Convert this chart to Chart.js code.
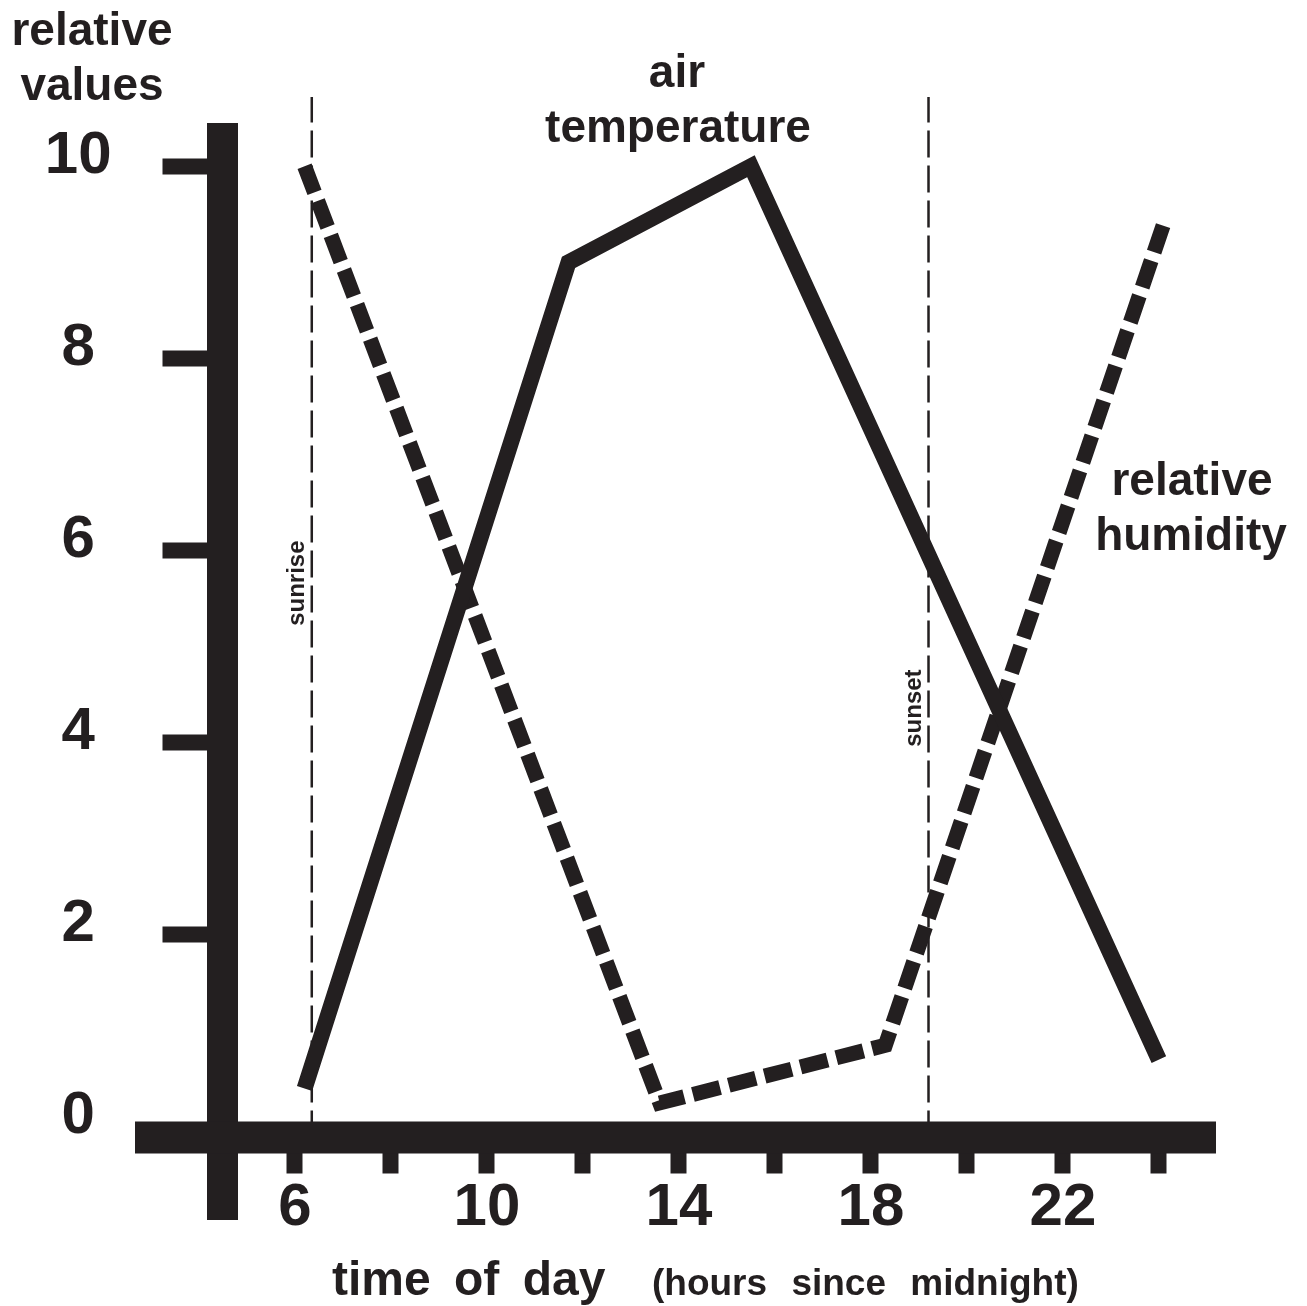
<!DOCTYPE html>
<html>
<head>
<meta charset="utf-8">
<script src="https://cdn.jsdelivr.net/npm/chart.js@4/dist/chart.umd.min.js"></script>
<style>
  html, body { margin: 0; padding: 0; background: #fff; }
  #wrap { position: relative; width: 1307px; height: 1306px; }
</style>
</head>
<body>
<div id="wrap"><canvas id="myChart"></canvas></div>
<script>
const ink = '#231f20';
const family = '"Liberation Sans", Arial, Helvetica, sans-serif';

// time of day (hours since midnight) against relative values
const temperatureHours = [6.2, 11.7, 15.5, 24.0];
const temperatureValues = [0.4, 9.0, 10.0, 0.7];
const humidityHours = [6.2, 13.6, 18.3, 24.1];
const humidityValues = [10.0, 0.25, 0.85, 9.4];
const sunriseHour = 6.35;
const sunsetHour = 19.2;
const markerSpan = [-0.11, 10.72];

const xTickValues = [6, 8, 10, 12, 14, 16, 18, 20, 22, 24];
const xLabelledHours = [6, 10, 14, 18, 22];
const yTickValues = [0, 2, 4, 6, 8, 10];

const toPoints = (xs, ys) => xs.map((x, i) => ({ x: x, y: ys[i] }));

const decorations = {
    id: 'decorations',
    afterDatasetsDraw(chart) {
        const { ctx, chartArea: a, scales: { x, y } } = chart;
        ctx.save();
        ctx.fillStyle = ink;
        // heavy axis bars, crossing each other at the corner
        ctx.fillRect(a.left - 15.5, a.top, 31, a.bottom - a.top + 82.5);
        ctx.fillRect(a.left - 87.5, a.bottom - 16, a.right - a.left + 87.5, 32);

        ctx.textBaseline = 'alphabetic';
        ctx.textAlign = 'center';
        ctx.font = 'bold 46px ' + family;
        ctx.fillText('relative', 92, 45);
        ctx.fillText('values', 92, 100);
        ctx.fillText('air', 677, 87);
        ctx.fillText('temperature', 678, 142);
        ctx.fillText('relative', 1192, 495);
        ctx.fillText('humidity', 1191, 550);

        // sunrise / sunset labels along the marker lines
        ctx.font = 'bold 24px ' + family;
        const side = (hour, value, text) => {
            ctx.save();
            ctx.translate(x.getPixelForValue(hour) - 8, y.getPixelForValue(value));
            ctx.rotate(-Math.PI / 2);
            ctx.fillText(text, 0, 0);
            ctx.restore();
        };
        side(sunriseHour, 5.66, 'sunrise');
        side(sunsetHour, 4.36, 'sunset');

        ctx.textAlign = 'left';
        ctx.wordSpacing = '10px';
        ctx.font = 'bold 48px ' + family;
        ctx.fillText('time of day', 332, 1295);
        ctx.wordSpacing = '14px';
        ctx.font = 'bold 37px ' + family;
        ctx.fillText('(hours since midnight)', 652, 1295);
        ctx.restore();
    }
};

const ctx = document.getElementById('myChart');
const myChart = new Chart(ctx, {
    type: 'line',
    data: {
        datasets: [
            {
                label: 'air temperature',
                data: toPoints(temperatureHours, temperatureValues),
                borderColor: ink,
                borderWidth: 16,
                borderJoinStyle: 'miter',
                borderCapStyle: 'butt',
                tension: 0
            },
            {
                label: 'relative humidity',
                data: toPoints(humidityHours, humidityValues),
                borderColor: ink,
                borderWidth: 15,
                borderDash: [28, 9],
                borderJoinStyle: 'miter',
                borderCapStyle: 'butt',
                tension: 0
            },
            {
                label: 'sunrise',
                data: toPoints([sunriseHour, sunriseHour], markerSpan),
                borderColor: ink,
                borderWidth: 2.5,
                borderDash: [27, 8],
                clip: false
            },
            {
                label: 'sunset',
                data: toPoints([sunsetHour, sunsetHour], markerSpan),
                borderColor: ink,
                borderWidth: 2.5,
                borderDash: [27, 8],
                clip: false
            }
        ]
    },
    options: {
        responsive: true,
        maintainAspectRatio: false,
        animation: false,
        layout: { padding: { top: 123, right: 91, left: 0, bottom: 0 } },
        elements: { point: { radius: 0 } },
        plugins: { legend: { display: false }, tooltip: { enabled: false } },
        scales: {
            x: {
                type: 'linear',
                min: 4.49,
                max: 25.19,
                afterBuildTicks: (s) => { s.ticks = xTickValues.map((v) => ({ value: v })); },
                afterFit: (s) => { s.height = 168.5; },
                border: { display: false },
                grid: { drawOnChartArea: false, drawTicks: true, tickLength: 36, tickWidth: 16, color: ink },
                ticks: {
                    color: ink,
                    autoSkip: false,
                    maxRotation: 0,
                    padding: -1,
                    font: { family: family, size: 60, weight: 'bold' },
                    callback: (v) => (xLabelledHours.includes(v) ? String(v) : '')
                }
            },
            y: {
                type: 'linear',
                min: -0.11,
                max: 10.45,
                afterBuildTicks: (s) => { s.ticks = yTickValues.map((v) => ({ value: v })); },
                afterFit: (s) => { s.width = 222.5; },
                border: { display: false },
                grid: {
                    drawOnChartArea: false,
                    drawTicks: true,
                    tickLength: 60,
                    tickWidth: 16,
                    // the zero mark is the x axis bar itself
                    tickColor: (c) => (c.tick && c.tick.value === 0 ? 'rgba(0,0,0,0)' : ink)
                },
                ticks: {
                    color: ink,
                    padding: 51,
                    crossAlign: 'center',
                    labelOffset: -10,
                    font: { family: family, size: 60, weight: 'bold' },
                    callback: (v) => String(v)
                }
            }
        }
    },
    plugins: [decorations]
});
</script>
</body>
</html>
